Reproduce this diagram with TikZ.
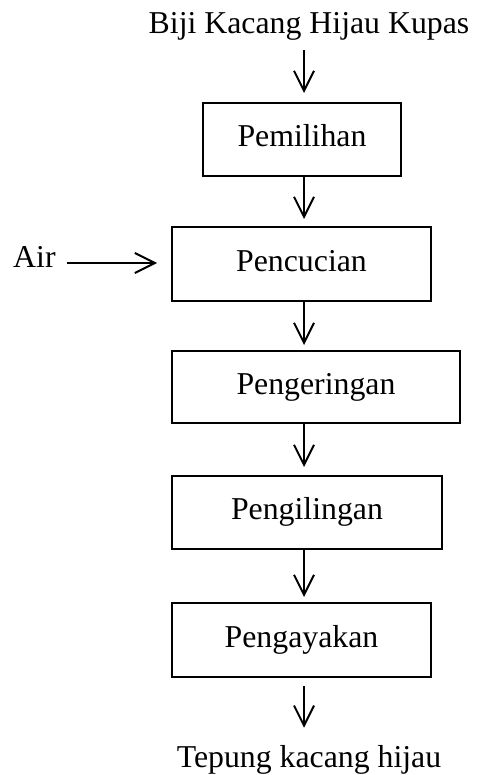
\documentclass[tikz,border=0pt]{standalone}
\usepackage{fontspec}
\setmainfont{Liberation Serif}
\usetikzlibrary{arrows.meta}
\begin{document}
\begin{tikzpicture}[x=1pt,y=-1pt,
  every node/.style={font=\fontsize{31.8}{38}\selectfont, inner sep=0pt},
  procbox/.style={draw, line width=2pt, text height=21.6pt, text depth=7pt},
  arr/.style={line width=2pt, -{Straight Barb[length=20pt,width=20pt,line width=2pt]}},
  plain/.style={}]
\useasboundingbox (0,0) rectangle (476,775);
\coordinate (axis) at (304,0);
\node[plain, anchor=base] (src) at (309,34) {Biji Kacang Hijau Kupas};
\node[procbox, minimum width=198pt, minimum height=73pt] (b1) at (302,139.5) {Pemilihan};
\node[procbox, minimum width=259pt, minimum height=74pt] (b2) at (301.5,264) {Pencucian};
\node[procbox, minimum width=288pt, minimum height=72pt] (b3) at (316,387) {Pengeringan};
\node[procbox, minimum width=270pt, minimum height=73pt] (b4) at (307,512.5) {Pengilingan};
\node[procbox, minimum width=259pt, minimum height=74pt] (b5) at (301.5,640) {Pengayakan};
\node[plain, anchor=base] (out) at (309,767) {Tepung kacang hijau};
\node[plain, anchor=base west] (air) at (13,267) {Air};
\coordinate (s0) at (304,50);
\coordinate (e0) at (304,93);
\draw[arr] (s0) -- (e0);
\draw[arr] (b1.south -| axis) -- ([yshift=7pt]b2.north -| axis);
\draw[arr] (b2.south -| axis) -- ([yshift=5pt]b3.north -| axis);
\draw[arr] (b3.south -| axis) -- ([yshift=8pt]b4.north -| axis);
\draw[arr] (b4.south -| axis) -- ([yshift=5pt]b5.north -| axis);
\draw[arr] ([yshift=-8pt]b5.south -| axis) -- ([yshift=17pt]out.north -| axis);
\coordinate (as) at (67,263);
\draw[arr] (as) -- ([xshift=-14pt]b2.west |- as);
\end{tikzpicture}
\end{document}
